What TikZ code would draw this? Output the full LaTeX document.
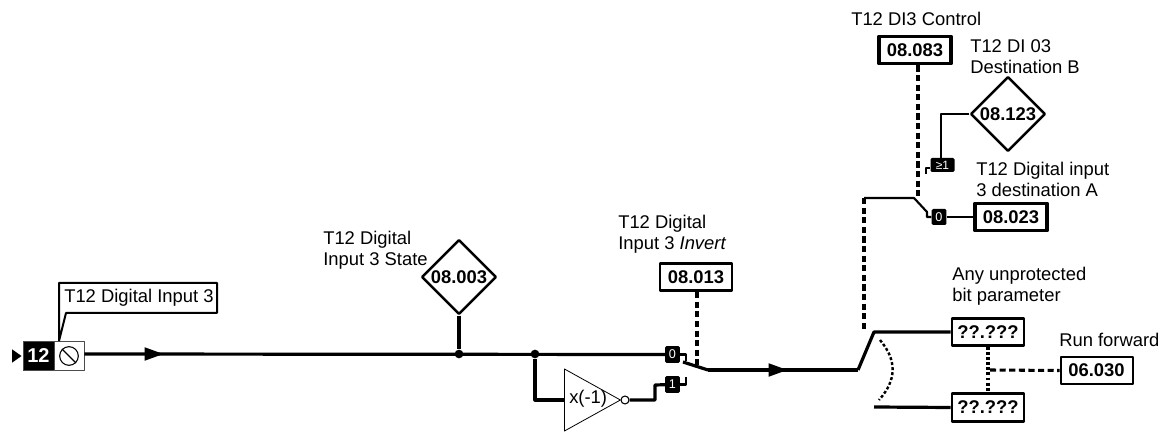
\documentclass[tikz,border=0pt]{standalone}
\usepackage{fontspec}
\setmainfont{Liberation Sans}
\usetikzlibrary{shapes.geometric}
\begin{document}
\begin{tikzpicture}[x=0.75pt,y=-0.75pt,font=\fontsize{13.8}{15.8}\selectfont,line join=round,
        wire/.style={line width=2.4pt},
        thin wire/.style={line width=1.6pt},
        dash wire/.style={line width=2.3pt,dash pattern=on 4.6pt off 2.6pt},
        dot wire/.style={line width=2.3pt,dash pattern=on 2.2pt off 1.6pt},
        flow tip/.style={fill=black,isosceles triangle,isosceles triangle apex angle=40,inner sep=0pt,minimum height=14pt},
        par box/.style={draw,line width=2.2pt,fill=white,font=\fontsize{13.8}{15.8}\selectfont\bfseries,minimum width=54pt,minimum height=20.5pt,inner sep=0pt},
        par dia/.style={draw,diamond,line width=1.9pt,fill=white,font=\fontsize{13.8}{15.8}\selectfont\bfseries,minimum width=56pt,minimum height=56pt,inner sep=0pt},
        tag/.style={fill=black,rounded corners=1pt,text=white,font=\fontsize{9.5}{10}\selectfont,minimum width=11pt,minimum height=12.5pt,inner sep=0pt},
        lbl/.style={align=left,anchor=west,inner sep=0pt},
        junction/.style={circle,fill=black,inner sep=0pt,minimum size=6.5pt}]
        \useasboundingbox (0,0) rectangle (1168,434);
        % input terminal
        \node[draw=black!70,fill=black,text=white,font=\fontsize{15}{16}\selectfont\bfseries,minimum width=23pt,minimum height=22pt,inner sep=0pt] (term) at (38.5,356) {12};
        \node[draw=black!70,fill=white,minimum width=22.5pt,minimum height=22pt,inner sep=0pt] (sym) at (69,356) {};
        \node[draw,circle,line width=0.8pt,minimum size=14pt,inner sep=0pt] (symc) at (69,356) {};
        \draw[line width=0.8pt] (symc.north west)--(symc.south east);
        \node[fill=black,isosceles triangle,isosceles triangle apex angle=70,inner sep=0pt,minimum height=5.5pt,minimum width=10pt] (termtip) at (15.5,356) {};
        \node[lbl] (termlbl) at (64,298) {T12 Digital Input 3};
        \coordinate (calla) at (59,341);
        \draw[line width=1.5pt] (calla)--(59,283)--(217,283)--(217,313)--(66,313)--(calla);
        % input line and state
        \node[junction] (jstate) at (459,354) {};
        \node[junction] (jinv) at (535,354) {};
        \node[tag] (tagzero) at (672.5,354.5) {0};
        \node[tag] (tagone) at (672.5,384.5) {1};
        \draw[wire] (sym.east|-jstate)--(tagzero);
        \node[flow tip,anchor=apex] (flowa) at (164,354) {};
        \node[par dia] (state) at (459,277) {08.003};
        \draw[wire] (state.south)--(jstate);
        \node[lbl] (statelbl) at (323,250) {T12 Digital\\Input 3 State};
        % invert branch
        \node[draw,isosceles triangle,isosceles triangle apex angle=58,line width=0.6pt,inner sep=0pt,minimum height=42pt,anchor=lower side] (inv) at (564,400) {};
        \node[anchor=west,inner sep=0pt] (invtxt) at (569,399) {x(-1)};
        \node[draw,circle,fill=white,line width=0.8pt,minimum size=6pt,inner sep=0pt] (invc) at (625,400) {};
        \draw[wire] (jinv)|-(inv.lower side);
        \draw[wire] (invc)-|(655,385)--(tagone);
        \coordinate (pole) at (708,370);
        \coordinate (arma) at (683,362);
        \draw[thin wire] (tagzero.east)-|(686,361);
        \draw[thin wire] (tagone.east)-|(686,377);
        \draw[wire] (arma)--(pole);
        \coordinate (swin) at (858,370);
        \draw[wire] (pole)--(swin);
        \node[flow tip,anchor=apex] (flowb) at (788,370) {};
        \node[par box] (invert) at (696,277) {08.013};
        \coordinate (invertend) at (697,367);
        \draw[dash wire] (invert.south-|invertend)--(invertend);
        \node[lbl] (invertlbl) at (618,234) {T12 Digital\\Input 3 \textit{Invert}};
        % output selector
        \node[par box] (anya) at (988,332) {??.???};
        \node[par box] (anyb) at (988,407.5) {??.???};
        \node[par box,line width=1.5pt] (runfwd) at (1096.5,370.5) {06.030};
        \node[lbl] (anylbl) at (952,286) {Any unprotected\\bit parameter};
        \node[lbl] (runlbl) at (1059,340) {Run forward};
        \coordinate (swa) at (874,332);
        \coordinate (swb) at (874,407);
        \draw[wire] (swin)--(swa)--(anya.west);
        \draw[wire] (swb)--(anyb.west);
        \coordinate (arca) at (880,340);
        \coordinate (arcb) at (879,400);
        \draw[dot wire,line width=1.8pt] (arca) .. controls (897,360) and (897,380) .. (arcb);
        \draw[dot wire] (anya.south)--(anyb.north);
        \coordinate (busj) at (990,370);
        \draw[dash wire] (busj)--(runfwd.west);
        % digital input 3 destinations
        \node[par box,line width=2.7pt] (control) at (915,50) {08.083};
        \node[par dia] (destb) at (1008,114) {08.123};
        \node[par box,line width=2.7pt] (desta) at (1011,217) {08.023};
        \node[tag,minimum width=18pt,minimum height=10.5pt,font=\fontsize{9}{9}\selectfont] (tagor) at (942.5,165) {≥1};
        \node[tag,minimum height=12pt] (tagout) at (939,217) {0};
        \coordinate (ctla) at (918,198);
        \coordinate (ctlb) at (864,198);
        \coordinate (ctlc) at (864,332);
        \coordinate (armb) at (927,212);
        \draw[dash wire] (control.south-|ctla)--(ctla);
        \draw[dash wire] (ctlb)--(ctlc);
        \draw[thin wire] (ctlb)--(914,198)--(armb)|-(tagout.west);
        \draw[thin wire] (tagout)--(desta.west);
        \draw[thin wire] (destb.west)-|(tagor.north-|941,0);
        \draw[thin wire] (tagor.west|-0,168)-|(926,174);
        \node[lbl] (controllbl) at (851,19) {T12 DI3 Control};
        \node[lbl] (destblbl) at (970,57) {T12 DI 03\\Destination B};
        \node[lbl] (destalbl) at (976,179) {T12 Digital input\\3 destination A};
\end{tikzpicture}
\end{document}
